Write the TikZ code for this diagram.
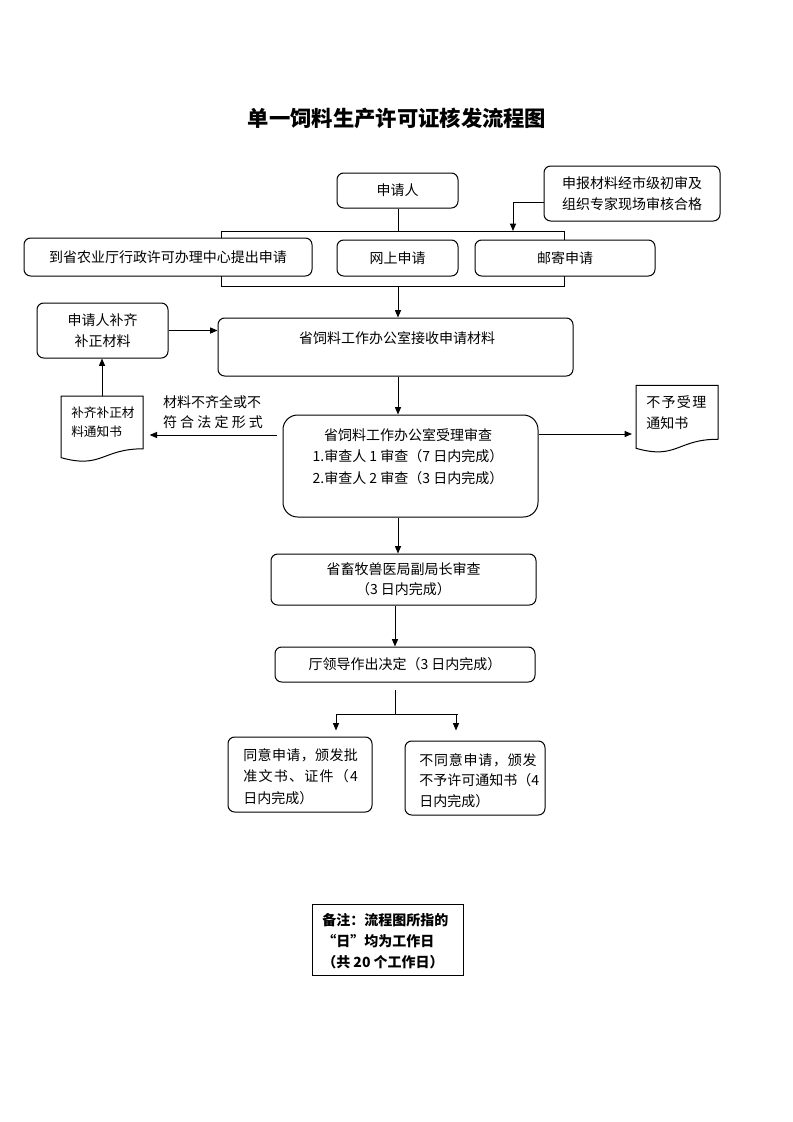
\documentclass[tikz,border=0pt]{standalone}
\usepackage{fontspec}
\setmainfont{Noto Sans CJK SC}
\usetikzlibrary{arrows.meta,calc}
\newcommand{\docoutline}[1]{%
  \draw[ln, fill=white] (#1.north west) -- (#1.north east) -- ($(#1.north east)!0.8!(#1.south east)$)
   .. controls ($(#1.north)!0.8!(#1.south)$) and ($(#1.north)!1.107!(#1.south)$) ..
   ($(#1.north west)!0.934!(#1.south west)$) -- cycle;}
\tikzset{
  ln/.style={line width=0.75pt},
  arr/.style={ln, -{Triangle[length=5.5pt,width=4.5pt]}},
  box/.style={draw, ln, rounded corners=5pt, fill=white, inner sep=0pt, align=center,
    font=\fontsize{10.5}{15.75}\selectfont},
  txt/.style={inner sep=0pt, font=\fontsize{10.5}{15.75}\selectfont},
  ghost/.style={inner sep=0pt, outer sep=0pt}
}
\begin{document}
\begin{tikzpicture}[x=0.75pt, y=-0.75pt]
\useasboundingbox (0,0) rectangle (793,1122);
\coordinate (c398) at (398,0);
\coordinate (c395) at (395,0);
\coordinate (c513) at (513,0);

\node[inner sep=0pt, font=\fontsize{16}{20}\selectfont\bfseries] (title) at (397,118) {单一饲料生产许可证核发流程图};

% bracket rectangle
\node[draw, ln, ghost, minimum width=257.25pt, minimum height=41.25pt] (bracket) at (392.5,258.5) {};

\node[box, minimum width=90.75pt, minimum height=26.25pt] (applicant) at (397.5,190.5) {申请人};
\node[box, minimum width=132pt, minimum height=41.25pt] (cityreview) at (632,193.5) {申报材料经市级初审及\\组织专家现场审核合格};
\node[box, minimum width=216pt, minimum height=28.5pt] (visit) at (168,257) {到省农业厅行政许可办理中心提出申请};
\node[box, minimum width=90.75pt, minimum height=27pt] (online) at (397.5,258) {网上申请};
\node[box, minimum width=135pt, minimum height=27pt] (mail) at (565,258) {邮寄申请};

\node[box, minimum width=266.25pt, minimum height=43.5pt] (receive) at (395.5,347) {};
\node[txt] (receivetext) at (397,338) {省饲料工作办公室接收申请材料};

\node[box, minimum width=98.25pt, minimum height=41.25pt] (supply) at (102.5,330.5) {申请人补齐\\补正材料};

\node[ghost, minimum width=61.5pt, minimum height=49.5pt] (supplynotice) at (102,429) {};
\docoutline{supplynotice}
\node[txt, anchor=west, align=left, font=\fontsize{9.5}{14.25}\selectfont] (supplynoticetext) at (71,422.5) {补齐补正材\\料通知书};

\node[ghost, minimum width=61.5pt, minimum height=50.6pt] (notaccept) at (677,419) {};
\docoutline{notaccept}
\node[txt, anchor=west, align=left] (notaccepttext) at (646,412.5) {\makebox[45pt][l]{不\hfill 予\hfill 受\hfill 理}\\通知书};

\node[box, rounded corners=11pt, minimum width=191.25pt, minimum height=76.5pt] (review) at (410.5,466) {};
\node[txt, align=center, font=\fontsize{10.5}{16.1}\selectfont] (reviewtext) at (408,456.5) {省饲料工作办公室受理审查\\1.审查人 1 审查（7 日内完成）\\2.审查人 2 审查（3 日内完成）};

\node[txt, align=left, font=\fontsize{10.5}{15}\selectfont] (reason) at (213,412) {材料不齐全或不\\\makebox[75pt][l]{符\hfill 合\hfill 法\hfill 定\hfill 形\hfill 式}};

\node[box, minimum width=198.75pt, minimum height=38.25pt, font=\fontsize{10.5}{15}\selectfont] (vet) at (403.5,579.5) {省畜牧兽医局副局长审查\\（3 日内完成）};
\node[box, minimum width=195pt, minimum height=26.25pt] (leader) at (405,664.5) {厅领导作出决定（3 日内完成）};

\node[box, minimum width=108pt, minimum height=56.25pt] (agree) at (300,774.5) {};
\node[txt, anchor=west, align=left, font=\fontsize{10.5}{16.1}\selectfont] (agreetext) at (243,776.5)
 {\makebox[86pt][l]{同\hfill 意\hfill 申\hfill 请\hfill ，\hfill 颁\hfill 发\hfill 批}\\
  \makebox[86pt][l]{准\hfill 文\hfill 书\hfill 、\hfill 证\hfill 件\hfill （\hfill 4}\\
  日内完成）};
\node[box, minimum width=105pt, minimum height=55.5pt] (disagree) at (475,778) {};
\node[txt, anchor=west, align=left, font=\fontsize{10.5}{15.4}\selectfont] (disagreetext) at (419,780.5)
 {\makebox[88pt][l]{不\hfill 同\hfill 意\hfill 申\hfill 请\hfill ，\hfill 颁\hfill 发}\\
  \makebox[88pt][l]{不\hfill 予\hfill 许\hfill 可\hfill 通\hfill 知\hfill 书\hfill （\hfill 4}\\
  日内完成）};

\node[draw, ln, ghost, minimum width=113.25pt, minimum height=53.25pt] (note) at (387.5,939.5) {};
\node[txt, anchor=west, align=left, font=\fontsize{10.5}{15.75}\selectfont\bfseries] (notetext) at (322,941.5)
 {备注：流程图所指的\\“日”均为工作日\\（共 20 个工作日）};

% connectors
\draw[ln] (applicant.south -| c398) -- (bracket.north -| c398);
\draw[arr] ([yshift=-6.4pt]cityreview.west) -| (bracket.north -| c513);
\draw[arr] (bracket.south -| c398) -- (receive.north -| c398);
\draw[arr] (supply.east) -- (supply.east -| receive.west);
\draw[arr] (supplynotice.north) -- (supplynotice.north |- supply.south);
\draw[arr] (receive.south -| c398) -- (review.north -| c398);
\draw[arr, shorten <=4.5pt, shorten >=5pt] ([yshift=23.25pt]review.west) -- ([yshift=23.25pt]review.west -| supplynotice.east);
\draw[arr, shorten >=3pt] ([yshift=24pt]review.east) -- ([yshift=24pt]review.east -| notaccept.west);
\draw[arr] (review.south -| c398) -- (vet.north -| c398);
\draw[arr] (vet.south -| c395) -- (leader.north -| c395);
\coordinate (split) at (395,714);
\coordinate (splitL) at (336,714);
\coordinate (splitR) at (458,714);
\draw[ln] ([yshift=-5.25pt]leader.south -| c395) -- (split);
\draw[ln] (splitL) -- (splitR);
\draw[arr, shorten >=4.5pt] (splitL) -- (agree.north -| splitL);
\draw[arr, shorten >=7.5pt] ([xshift=-1.5pt]splitR) -- ([xshift=-1.5pt]disagree.north -| splitR);
\end{tikzpicture}
\end{document}
